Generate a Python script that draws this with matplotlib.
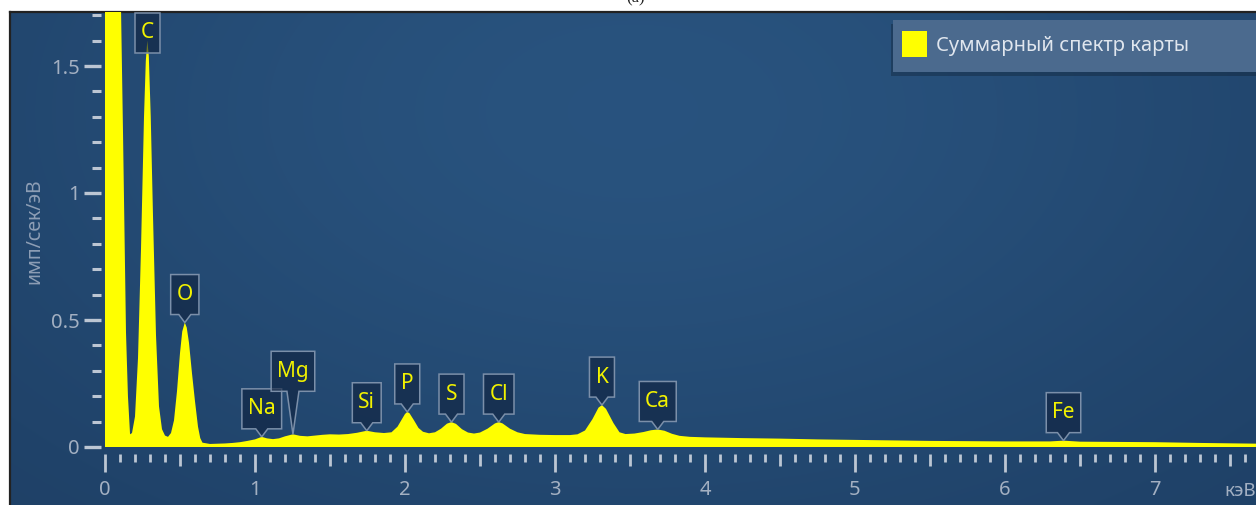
import numpy as np
import matplotlib
matplotlib.use("Agg")
import matplotlib.pyplot as plt
from matplotlib.patches import Polygon, Rectangle, Patch
from matplotlib.ticker import FixedLocator, MultipleLocator
from matplotlib.transforms import IdentityTransform

plt.rcParams["font.family"] = ["Noto Sans", "DejaVu Sans"]

# spectrum: energy (keV) and counts (imp/s/eV)
ENERGY = [
    0.000, 0.080, 0.107, 0.120, 0.140, 0.153, 0.167, 0.180, 0.200, 0.220,
    0.240, 0.260, 0.272, 0.282, 0.292, 0.305, 0.320, 0.340, 0.360, 0.380,
    0.400, 0.420, 0.440, 0.460, 0.480, 0.500, 0.515, 0.532, 0.545, 0.560,
    0.580, 0.600, 0.620, 0.635, 0.650, 0.700, 0.800, 0.850, 0.900, 0.950,
    1.000, 1.045, 1.080, 1.120, 1.160, 1.200, 1.253, 1.300, 1.350, 1.400,
    1.450, 1.500, 1.560, 1.620, 1.680, 1.745, 1.800, 1.860, 1.910, 1.950,
    1.980, 2.000, 2.015, 2.030, 2.060, 2.090, 2.120, 2.160, 2.200, 2.240,
    2.280, 2.310, 2.340, 2.380, 2.420, 2.460, 2.500, 2.550, 2.600, 2.625,
    2.650, 2.700, 2.750, 2.800, 2.900, 3.000, 3.100, 3.150, 3.200, 3.250,
    3.290, 3.313, 3.340, 3.390, 3.430, 3.470, 3.530, 3.590, 3.640, 3.685,
    3.730, 3.780, 3.830, 3.900, 4.000, 4.250, 4.500, 4.750, 5.000, 5.500,
    6.000, 6.300, 6.390, 6.500, 7.000, 7.300, 7.700,
]
COUNTS = [
    3.000, 3.000, 1.720, 1.240, 0.450, 0.200, 0.050, 0.055, 0.120, 0.350,
    0.780, 1.300, 1.520, 1.600, 1.540, 1.300, 0.910, 0.440, 0.160, 0.070,
    0.045, 0.040, 0.055, 0.105, 0.220, 0.370, 0.455, 0.490, 0.470, 0.410,
    0.290, 0.180, 0.080, 0.035, 0.017, 0.012, 0.014, 0.016, 0.019, 0.024,
    0.030, 0.040, 0.034, 0.031, 0.034, 0.042, 0.050, 0.044, 0.042, 0.045,
    0.048, 0.050, 0.049, 0.051, 0.056, 0.064, 0.058, 0.055, 0.058, 0.080,
    0.110, 0.130, 0.138, 0.133, 0.105, 0.075, 0.060, 0.054, 0.058, 0.072,
    0.092, 0.098, 0.091, 0.070, 0.057, 0.053, 0.057, 0.072, 0.093, 0.098,
    0.093, 0.072, 0.058, 0.051, 0.048, 0.047, 0.047, 0.050, 0.065, 0.110,
    0.155, 0.165, 0.150, 0.094, 0.058, 0.051, 0.053, 0.059, 0.066, 0.069,
    0.064, 0.052, 0.044, 0.040, 0.038, 0.035, 0.033, 0.030, 0.028, 0.024,
    0.022, 0.022, 0.025, 0.021, 0.019, 0.016, 0.013,
]

ELEMENTS = ["C", "O", "Na", "Mg", "Si", "P", "S", "Cl", "K", "Ca", "Fe"]
LINE_KEV = [0.282, 0.532, 1.045, 1.253, 1.745, 2.015, 2.310, 2.625, 3.313, 3.685, 6.390]

SERIES_NAME = "Суммарный спектр карты"
X_TICKS = [0, 1, 2, 3, 4, 5, 6, 7]
Y_TICKS = [0, 0.5, 1, 1.5]
Y_TICK_LABELS = ["0", "0.5", "1", "1.5"]

# layout in pixels (figure is 1256 x 505 at dpi 100)
W, H = 1256, 505
X0_PX, Y0_PX = 105, 447          # where 0 keV / 0 counts sit
PX_PER_KEV, PX_PER_UNIT = 150.0, 254.0
PANEL_LEFT, PANEL_TOP = 10, 12
# gap between tag box bottom and peak tip (px); C is pinned to the top
TAG_LIFT = {"C": -12, "Mg": 43}

TICK_COLOR = "#bcc6d3"
LABEL_COLOR = "#a3b0c2"
YELLOW = "#ffff00"


def fx(px):
    return px / W


def fy(py_from_top):
    return 1 - py_from_top / H


fig = plt.figure(figsize=(W / 100, H / 100), dpi=100)
fig.patch.set_facecolor("white")

# dark blue panel with a soft lighter centre
bg = fig.add_axes([fx(PANEL_LEFT), 0, fx(W - PANEL_LEFT), fy(PANEL_TOP)])
u = np.linspace(0, 1, 400)[None, :]
v = np.linspace(0, 1, 160)[:, None]
w = np.exp(-((u - 0.5) / 0.6) ** 2 - ((v - 0.2) / 0.9) ** 2)
edge = np.array([0.110, 0.235, 0.380])
centre = np.array([0.160, 0.325, 0.495])
img = edge[None, None, :] + (centre - edge)[None, None, :] * w[..., None]
bg.imshow(img, aspect="auto", extent=(0, 1, 0, 1), interpolation="bilinear")
bg.set_xticks([])
bg.set_yticks([])
for side in ("right", "bottom"):
    bg.spines[side].set_visible(False)
for side in ("left", "top"):
    bg.spines[side].set_color("#222222")
    bg.spines[side].set_linewidth(1.6)

ax = fig.add_axes([fx(X0_PX), 1 - Y0_PX / H, fx(W - X0_PX), (Y0_PX - PANEL_TOP) / H])
ax.patch.set_visible(False)
ax.set_xlim(0, (W - X0_PX) / PX_PER_KEV)
ax.set_ylim(0, (Y0_PX - PANEL_TOP) / PX_PER_UNIT)

ax.fill_between(ENERGY, 0, COUNTS, color=YELLOW, lw=0, label=SERIES_NAME, zorder=2)

for side in ("top", "right", "left", "bottom"):
    ax.spines[side].set_visible(False)
ax.spines["bottom"].set_position(("outward", 5))
ax.spines["left"].set_position(("outward", 3))

ax.xaxis.set_major_locator(FixedLocator(X_TICKS))
ax.xaxis.set_minor_locator(MultipleLocator(0.1))
ax.set_xticklabels([str(t) for t in X_TICKS])
ax.yaxis.set_major_locator(FixedLocator(Y_TICKS))
ax.yaxis.set_minor_locator(MultipleLocator(0.1))
ax.set_yticklabels(Y_TICK_LABELS)

ax.tick_params(axis="x", which="major", direction="out", length=13, width=2.0,
               color=TICK_COLOR, labelcolor=LABEL_COLOR, labelsize=14.5, pad=6)
ax.tick_params(axis="x", which="minor", direction="out", length=5.8, width=2.0,
               color=TICK_COLOR)
ax.tick_params(axis="y", which="major", direction="out", length=12, width=2.4,
               color=TICK_COLOR, labelcolor=LABEL_COLOR, labelsize=14.5, pad=3)
ax.tick_params(axis="y", which="minor", direction="out", length=6.5, width=2.2,
               color=TICK_COLOR)

fig.canvas.draw()
# half-keV ticks are a bit longer than the others
for tick, loc in zip(ax.xaxis.get_minor_ticks(), ax.xaxis.get_minorticklocs()):
    if abs(loc * 2 - round(loc * 2)) < 1e-6:
        tick.tick1line.set_markersize(8.7)

fig.text(fx(34), fy(231), "имп/сек/эВ", rotation=90, ha="center", va="center",
         color="#8d9eb5", fontsize=14)
fig.text(fx(1224), fy(491), "кэВ", ha="left", va="center", color=LABEL_COLOR, fontsize=13.5)
fig.text(fx(636), fy(2), "(a)", ha="center", va="baseline", fontsize=12,
         family="Liberation Serif", color="#222222")

# element tags: box with a pointer down to the peak
renderer = fig.canvas.get_renderer()
ident = IdentityTransform()
for name, kev in zip(ELEMENTS, LINE_KEV):
    tip_x, tip_y = ax.transData.transform((kev, np.interp(kev, ENERGY, COUNTS)))
    lift = TAG_LIFT.get(name, 8)
    b = tip_y + lift
    t = b + 40
    txt = fig.text(tip_x, b + 20, name, transform=ident, ha="center", va="center",
                   color="#f2f200", fontsize=15, zorder=7)
    half = max(txt.get_window_extent(renderer).width / 2 + 6, 12.5)
    l, r = tip_x - half, tip_x + half
    if lift > 0:
        verts = [(l, b), (tip_x - 6, b), (tip_x, tip_y), (tip_x + 6, b), (r, b), (r, t), (l, t)]
    else:
        verts = [(l, b), (r, b), (r, t), (l, t)]
    fig.add_artist(Polygon(verts, closed=True, transform=ident, facecolor=(0.06, 0.13, 0.24, 0.6),
                           edgecolor="#7b8fa9", linewidth=1.1, zorder=6))

# legend panel, runs off the right edge like the original
fig.add_artist(Rectangle((fx(891), fy(76)), fx(W), 52 / H, transform=fig.transFigure,
                         facecolor=(0, 0, 0, 0.22), edgecolor="none", zorder=4))
fig.add_artist(Rectangle((fx(893), fy(72)), fx(W), 52 / H, transform=fig.transFigure,
                         facecolor="#4b6a8e", edgecolor="none", zorder=5))
fig.legend(handles=[Patch(facecolor=YELLOW, edgecolor="none")], labels=[SERIES_NAME],
           loc="upper left", bbox_to_anchor=(fx(902), fy(31)), frameon=False,
           borderpad=0, borderaxespad=0, handlelength=1.25, handleheight=1.6,
           handletextpad=0.45, fontsize=14.5, labelcolor="#e0e6ee").set_zorder(8)

fig.savefig("out.png", dpi=100)
